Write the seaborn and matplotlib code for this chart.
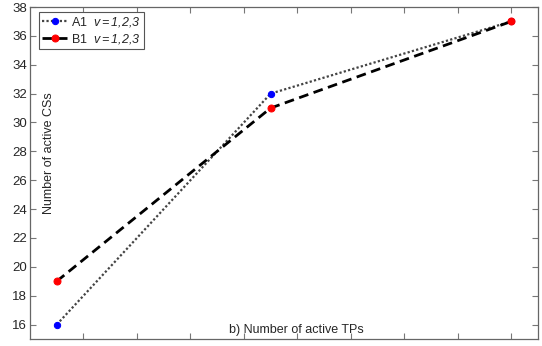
import pandas as pd
import seaborn as sns
import matplotlib.pyplot as plt

# x positions (tick units, no labels shown in the original)
tps = [1, 5, 9.5]
a1 = [16, 32, 37]
b1 = [19, 31, 37]

sns.set_style('white')
plt.rcParams['font.family'] = ['Liberation Sans', 'DejaVu Sans']
plt.rcParams['mathtext.fontset'] = 'custom'
plt.rcParams['mathtext.it'] = 'Liberation Sans:italic'
plt.rcParams['mathtext.rm'] = 'Liberation Sans:italic'

df_a = pd.DataFrame({'tps': tps, 'cs': a1})
df_b = pd.DataFrame({'tps': tps, 'cs': b1})

fig = plt.figure(figsize=(5.42, 3.46), dpi=100)
ax = fig.add_axes([30 / 542, 7 / 346, 508 / 542, 332 / 346])

sns.lineplot(data=df_a, x='tps', y='cs', ax=ax, color='#444444', linestyle=(0, (1, 1)), lw=1.6,
             marker='o', markersize=4.5, markerfacecolor='blue', markeredgecolor='blue',
             label='A1  $\\mathit{v{=}1{,}2{,}3}$')
sns.lineplot(data=df_b, x='tps', y='cs', ax=ax, color='black', linestyle=(0, (3.5, 2)), lw=2,
             marker='o', markersize=5, markerfacecolor='red', markeredgecolor='red',
             label='B1  $\\mathit{v{=}1{,}2{,}3}$')

ax.set_xlim(0.5, 10.0)
ax.set_ylim(15, 38)
ax.set_xticks([1.5 + i for i in range(9)])
ax.set_xticklabels([])
ax.set_yticks(range(16, 39, 2))
ax.tick_params(direction='in', length=4, width=0.8, color='#777777', labelsize=9.5,
               top=True, right=True, bottom=True, left=True, pad=2)
for s in ax.spines.values():
    s.set_color('#666666')
    s.set_linewidth(0.9)

ax.set_xlabel('')
ax.set_ylabel('')
ax.text(0.524, 0.01, 'b) Number of active TPs', transform=ax.transAxes,
        ha='center', va='bottom', fontsize=9)
ax.text(0.037, 0.56, 'Number of active CSs', transform=ax.transAxes,
        ha='center', va='center', rotation=90, fontsize=9)

leg = ax.legend(loc='upper left', bbox_to_anchor=(0.018, 0.985), fontsize=9,
                fancybox=False, framealpha=1, edgecolor='#555555',
                handlelength=2.0, borderpad=0.25, labelspacing=0.25, handletextpad=0.3,
                borderaxespad=0)
leg.get_frame().set_linewidth(0.8)

fig.savefig('out.png', dpi=100)
